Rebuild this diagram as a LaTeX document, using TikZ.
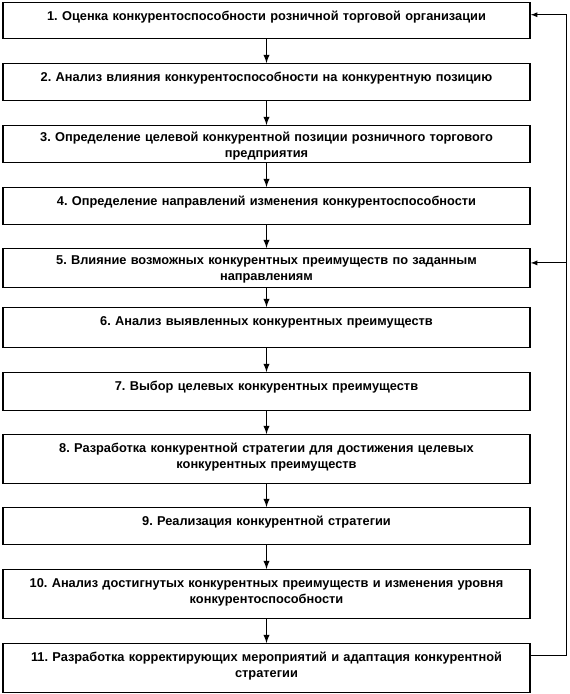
\documentclass[tikz,border=0pt]{standalone}
\usepackage{fontspec}
\setmainfont{Liberation Sans}
\frenchspacing
\usetikzlibrary{positioning,calc}
\tikzset{
  stage/.style={draw, line width=1.1pt, anchor=north, align=center,
    text width=390pt, minimum width=395.25pt, inner xsep=0pt, inner ysep=0pt,
    text height=13pt, font=\fontsize{9.6}{12.5}\selectfont\bfseries},
  flow/.style={line width=1.1pt, -latex},
  back/.style={line width=0.7pt, -latex}
}

\begin{document}
\begin{tikzpicture}[x=0.75pt,y=-0.75pt]
\useasboundingbox (0,0) rectangle (569,694);
\node[stage, text depth=14pt] (b1) at (266.5,2) {1. Оценка конкурентоспособности розничной торговой организации};
\node[stage, text depth=14.75pt] (b2) at (266.5,63) {2. Анализ влияния конкурентоспособности на конкурентную позицию};
\node[stage, text height=12pt, text depth=15.75pt, font=\fontsize{9.6}{11.5}\selectfont\bfseries] (b3) at (266.5,125) {3. Определение целевой конкурентной позиции розничного торгового\\ предприятия};
\node[stage, text depth=14.75pt] (b4) at (266.5,187) {4. Определение направлений изменения конкурентоспособности};
\node[stage, text height=12pt, text depth=17.25pt, font=\fontsize{9.6}{11.5}\selectfont\bfseries] (b5) at (266.5,248) {5. Влияние возможных конкурентных преимуществ по заданным\\ направлениям};
\node[stage, text depth=17pt] (b6) at (266.5,307) {6. Анализ выявленных конкурентных преимуществ};
\node[stage, text depth=15.5pt] (b7) at (266.5,372) {7. Выбор целевых конкурентных преимуществ};
\node[stage, text depth=23.75pt] (b8) at (266.5,434) {8. Разработка конкурентной стратегии для достижения целевых\\ конкурентных преимуществ};
\node[stage, text depth=14.75pt] (b9) at (266.5,507) {9. Реализация конкурентной стратегии};
\node[stage, text depth=23.75pt] (b10) at (266.5,569) {10. Анализ достигнутых конкурентных преимуществ и изменения уровня\\ конкурентоспособности};
\node[stage, text depth=23.75pt] (b11) at (266.5,643) {11. Разработка корректирующих мероприятий и адаптация конкурентной\\ стратегии};
\draw[flow] (b1) -- (b2);
\draw[flow] (b2) -- (b3);
\draw[flow] (b3) -- (b4);
\draw[flow] (b4) -- (b5);
\draw[flow] (b5) -- (b6);
\draw[flow] (b6) -- (b7);
\draw[flow] (b7) -- (b8);
\draw[flow] (b8) -- (b9);
\draw[flow] (b9) -- (b10);
\draw[flow] (b10) -- (b11);
\coordinate (in1) at ([yshift=4.5pt]b1.east);
\coordinate (in5) at ([yshift=4pt]b5.east);
\coordinate (out11) at ([yshift=9.4pt]b11.east);
\draw[back] (out11) -- ++(36,0) coordinate (turn) |- (in1);
\draw[back] (turn |- in5) -- (in5);
\end{tikzpicture}
\end{document}
